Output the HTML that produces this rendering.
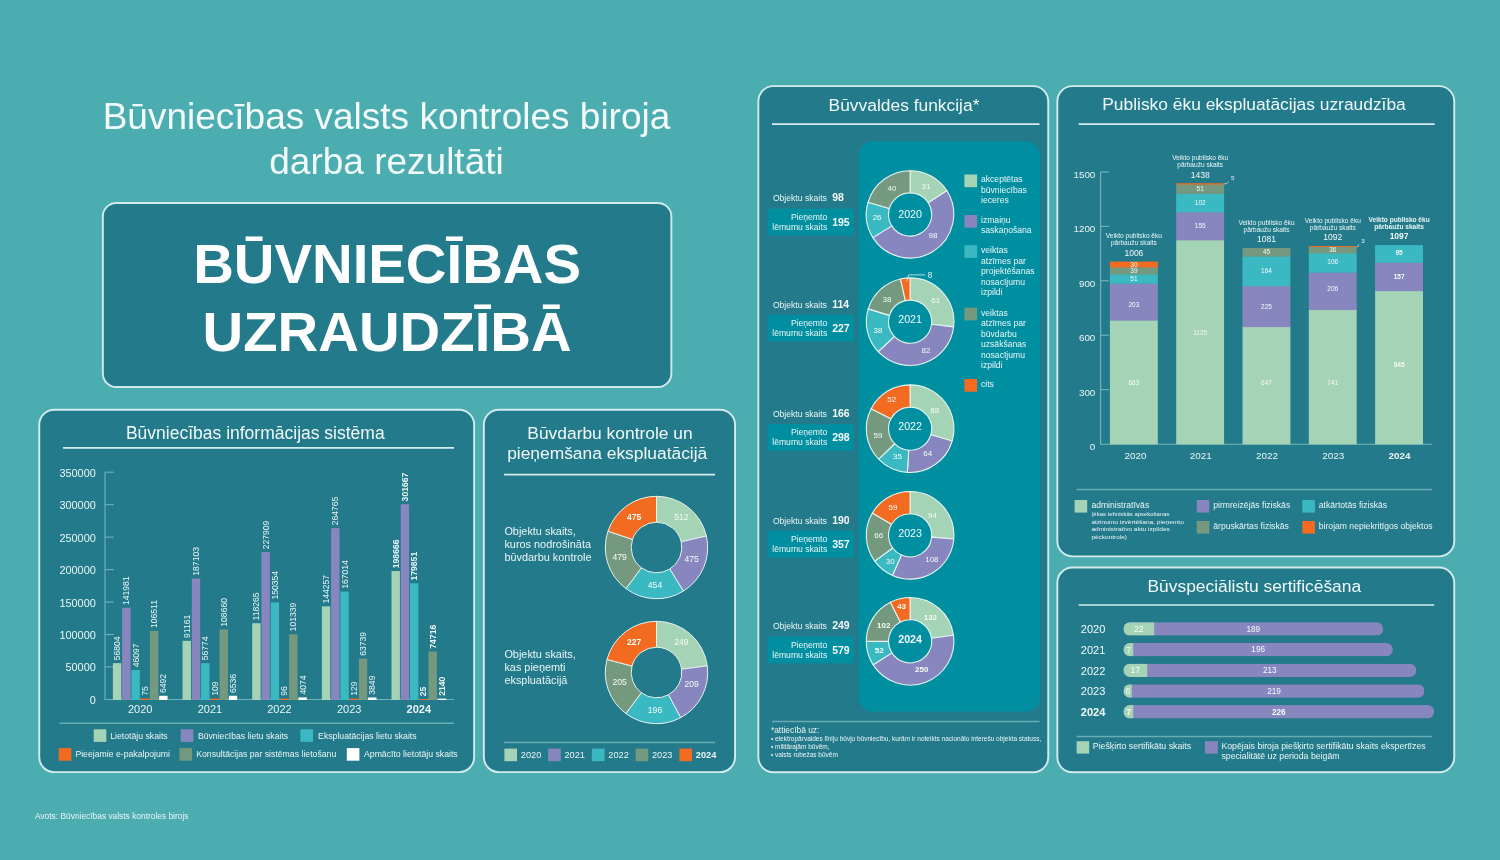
<!DOCTYPE html>
<html lang="lv"><head><meta charset="utf-8">
<title>Būvniecības valsts kontroles biroja darba rezultāti – Būvniecības uzraudzībā</title>
<style>
html,body{margin:0;padding:0;background:#4cadb1;}
body{width:1500px;height:860px;overflow:hidden;position:relative;font-family:"Liberation Sans",sans-serif;color:#eaf6f6;}
#stage{position:absolute;left:0;top:0;width:1500px;height:860px;background:#4cadb1;overflow:hidden;}
svg{position:absolute;left:0;top:0;overflow:visible;}
svg text{font-family:"Liberation Sans",sans-serif;}
h1,h2,p{margin:0;font-weight:400;}
#maintitle{position:absolute;left:0;width:773px;top:95px;text-align:center;font-size:37px;line-height:44.6px;color:#f2fafa;}
#hero{position:absolute;left:101.9px;top:202px;width:570.4px;height:186px;}
#hero p{position:absolute;left:-20px;right:-20px;top:27.6px;text-align:center;font-weight:700;font-size:56.3px;line-height:68px;color:#fff;}
.ptitle{position:absolute;text-align:center;font-size:17.4px;line-height:20.2px;color:#f0f9f9;}
#src{position:absolute;left:35px;top:810.5px;font-size:8.4px;line-height:10px;color:#e6f4f4;}
</style></head><body><div id="stage">

<header>
<h1 id="maintitle">Būvniecības valsts kontroles biroja<br>darba rezultāti</h1>
<svg width="1500" height="860" viewBox="0 0 1500 860"><rect x="102.85" y="202.95" width="568.50" height="184.10" rx="13.55" fill="#237a8a" stroke="#d0e9ea" stroke-width="1.9"/></svg>
<div id="hero"><p>BŪVNIECĪBAS<br>UZRAUDZĪBĀ</p></div>
</header>
<section id="bis">
<svg width="1500" height="860" viewBox="0 0 1500 860"><rect x="39.25" y="409.75" width="434.90" height="362.40" rx="15.05" fill="#237a8a" stroke="#d3ebec" stroke-width="1.9"/></svg>
<h2 class="ptitle" style="left:37.3px;width:436px;top:423.0px;font-size:17.5px">Būvniecības informācijas sistēma</h2>
<svg width="1500" height="860" viewBox="0 0 1500 860">
<line x1="63.0" y1="447.9" x2="454.0" y2="447.9" stroke="#d6eded" stroke-width="1.6"/>
<line x1="105.0" y1="472.2" x2="105.0" y2="699.9" stroke="#72b2ba" stroke-width="1.1"/>
<text x="95.8" y="703.9" font-size="10.9" text-anchor="end" fill="#eaf6f6">0</text>
<line x1="105.0" y1="666.9" x2="113.8" y2="666.9" stroke="#72b2ba" stroke-width="1.1"/>
<text x="95.8" y="671.4" font-size="10.9" text-anchor="end" fill="#eaf6f6">50000</text>
<line x1="105.0" y1="634.5" x2="113.8" y2="634.5" stroke="#72b2ba" stroke-width="1.1"/>
<text x="95.8" y="639.0" font-size="10.9" text-anchor="end" fill="#eaf6f6">100000</text>
<line x1="105.0" y1="602.0" x2="113.8" y2="602.0" stroke="#72b2ba" stroke-width="1.1"/>
<text x="95.8" y="606.5" font-size="10.9" text-anchor="end" fill="#eaf6f6">150000</text>
<line x1="105.0" y1="569.6" x2="113.8" y2="569.6" stroke="#72b2ba" stroke-width="1.1"/>
<text x="95.8" y="574.1" font-size="10.9" text-anchor="end" fill="#eaf6f6">200000</text>
<line x1="105.0" y1="537.1" x2="113.8" y2="537.1" stroke="#72b2ba" stroke-width="1.1"/>
<text x="95.8" y="541.6" font-size="10.9" text-anchor="end" fill="#eaf6f6">250000</text>
<line x1="105.0" y1="504.7" x2="113.8" y2="504.7" stroke="#72b2ba" stroke-width="1.1"/>
<text x="95.8" y="509.2" font-size="10.9" text-anchor="end" fill="#eaf6f6">300000</text>
<line x1="105.0" y1="472.2" x2="113.8" y2="472.2" stroke="#72b2ba" stroke-width="1.1"/>
<text x="95.8" y="476.7" font-size="10.9" text-anchor="end" fill="#eaf6f6">350000</text>
<line x1="104.5" y1="699.5" x2="454.0" y2="699.5" stroke="#72b2ba" stroke-width="1.1"/>
<rect x="112.90" y="663.13" width="8.40" height="36.87" fill="#a5d3b5"/>
<text transform="translate(120.1 660.3) rotate(-90)" font-size="8.6" fill="#eaf6f6">56804</text>
<rect x="122.15" y="607.83" width="8.40" height="92.17" fill="#8786be"/>
<text transform="translate(129.4 605.0) rotate(-90)" font-size="8.6" fill="#eaf6f6">141981</text>
<rect x="131.40" y="670.08" width="8.40" height="29.92" fill="#3bb9c2"/>
<text transform="translate(138.6 667.3) rotate(-90)" font-size="8.6" fill="#eaf6f6">46097</text>
<rect x="140.65" y="698.60" width="8.40" height="1.40" fill="#f26b21"/>
<text transform="translate(147.8 695.8) rotate(-90)" font-size="8.6" fill="#eaf6f6">75</text>
<rect x="149.90" y="630.86" width="8.40" height="69.14" fill="#74997f"/>
<text transform="translate(157.1 628.1) rotate(-90)" font-size="8.6" fill="#eaf6f6">106511</text>
<rect x="159.15" y="695.79" width="8.40" height="4.21" fill="#ffffff"/>
<text transform="translate(166.3 693.0) rotate(-90)" font-size="8.6" fill="#eaf6f6">6492</text>
<text x="140.2" y="712.7" font-size="11" text-anchor="middle" fill="#eaf6f6">2020</text>
<rect x="182.55" y="640.82" width="8.40" height="59.18" fill="#a5d3b5"/>
<text transform="translate(189.8 638.0) rotate(-90)" font-size="8.6" fill="#eaf6f6">91161</text>
<rect x="191.80" y="578.54" width="8.40" height="121.46" fill="#8786be"/>
<text transform="translate(199.0 575.7) rotate(-90)" font-size="8.6" fill="#eaf6f6">187103</text>
<rect x="201.05" y="663.15" width="8.40" height="36.85" fill="#3bb9c2"/>
<text transform="translate(208.2 660.3) rotate(-90)" font-size="8.6" fill="#eaf6f6">56774</text>
<rect x="210.30" y="698.60" width="8.40" height="1.40" fill="#f26b21"/>
<text transform="translate(217.5 695.8) rotate(-90)" font-size="8.6" fill="#eaf6f6">109</text>
<rect x="219.55" y="629.46" width="8.40" height="70.54" fill="#74997f"/>
<text transform="translate(226.8 626.7) rotate(-90)" font-size="8.6" fill="#eaf6f6">108660</text>
<rect x="228.80" y="695.76" width="8.40" height="4.24" fill="#ffffff"/>
<text transform="translate(236.0 693.0) rotate(-90)" font-size="8.6" fill="#eaf6f6">6536</text>
<text x="209.9" y="712.7" font-size="11" text-anchor="middle" fill="#eaf6f6">2021</text>
<rect x="252.20" y="623.23" width="8.40" height="76.77" fill="#a5d3b5"/>
<text transform="translate(259.4 620.4) rotate(-90)" font-size="8.6" fill="#eaf6f6">118265</text>
<rect x="261.45" y="552.05" width="8.40" height="147.95" fill="#8786be"/>
<text transform="translate(268.7 549.3) rotate(-90)" font-size="8.6" fill="#eaf6f6">227909</text>
<rect x="270.70" y="602.40" width="8.40" height="97.60" fill="#3bb9c2"/>
<text transform="translate(277.9 599.6) rotate(-90)" font-size="8.6" fill="#eaf6f6">150354</text>
<rect x="279.95" y="698.60" width="8.40" height="1.40" fill="#f26b21"/>
<text transform="translate(287.2 695.8) rotate(-90)" font-size="8.6" fill="#eaf6f6">96</text>
<rect x="289.20" y="634.22" width="8.40" height="65.78" fill="#74997f"/>
<text transform="translate(296.4 631.4) rotate(-90)" font-size="8.6" fill="#eaf6f6">101339</text>
<rect x="298.45" y="697.36" width="8.40" height="2.64" fill="#ffffff"/>
<text transform="translate(305.7 694.6) rotate(-90)" font-size="8.6" fill="#eaf6f6">4074</text>
<text x="279.5" y="712.7" font-size="11" text-anchor="middle" fill="#eaf6f6">2022</text>
<rect x="321.85" y="606.36" width="8.40" height="93.64" fill="#a5d3b5"/>
<text transform="translate(329.1 603.6) rotate(-90)" font-size="8.6" fill="#eaf6f6">144257</text>
<rect x="331.10" y="528.13" width="8.40" height="171.87" fill="#8786be"/>
<text transform="translate(338.3 525.3) rotate(-90)" font-size="8.6" fill="#eaf6f6">264765</text>
<rect x="340.35" y="591.58" width="8.40" height="108.42" fill="#3bb9c2"/>
<text transform="translate(347.6 588.8) rotate(-90)" font-size="8.6" fill="#eaf6f6">167014</text>
<rect x="349.60" y="698.60" width="8.40" height="1.40" fill="#f26b21"/>
<text transform="translate(356.8 695.8) rotate(-90)" font-size="8.6" fill="#eaf6f6">129</text>
<rect x="358.85" y="658.62" width="8.40" height="41.38" fill="#74997f"/>
<text transform="translate(366.1 655.8) rotate(-90)" font-size="8.6" fill="#eaf6f6">63739</text>
<rect x="368.10" y="697.50" width="8.40" height="2.50" fill="#ffffff"/>
<text transform="translate(375.3 694.7) rotate(-90)" font-size="8.6" fill="#eaf6f6">3849</text>
<text x="349.2" y="712.7" font-size="11" text-anchor="middle" fill="#eaf6f6">2023</text>
<rect x="391.50" y="571.04" width="8.40" height="128.96" fill="#a5d3b5"/>
<text transform="translate(398.7 568.2) rotate(-90)" font-size="8.6" fill="#eaf6f6" font-weight="700">198666</text>
<rect x="400.75" y="504.18" width="8.40" height="195.82" fill="#8786be"/>
<text transform="translate(407.9 501.4) rotate(-90)" font-size="8.6" fill="#eaf6f6" font-weight="700">301667</text>
<rect x="410.00" y="583.25" width="8.40" height="116.75" fill="#3bb9c2"/>
<text transform="translate(417.2 580.5) rotate(-90)" font-size="8.6" fill="#eaf6f6" font-weight="700">179851</text>
<rect x="419.25" y="699.10" width="8.40" height="0.90" fill="#f26b21"/>
<text transform="translate(426.4 696.3) rotate(-90)" font-size="8.6" fill="#eaf6f6" font-weight="700">25</text>
<rect x="428.50" y="651.50" width="8.40" height="48.50" fill="#74997f"/>
<text transform="translate(435.7 648.7) rotate(-90)" font-size="8.6" fill="#eaf6f6" font-weight="700">74716</text>
<rect x="437.75" y="698.60" width="8.40" height="1.40" fill="#ffffff"/>
<text transform="translate(444.9 695.8) rotate(-90)" font-size="8.6" fill="#eaf6f6" font-weight="700">2140</text>
<text x="418.8" y="712.7" font-size="11" text-anchor="middle" font-weight="700" fill="#eaf6f6">2024</text>
<line x1="59.4" y1="723.2" x2="454.0" y2="723.2" stroke="#6aadb5" stroke-width="1.5"/>
<rect x="93.70" y="729.30" width="12.60" height="12.60" fill="#a5d3b5"/>
<text x="110.2" y="738.6" font-size="8.7" text-anchor="start" fill="#eaf6f6">Lietotāju skaits</text>
<rect x="180.70" y="729.30" width="12.60" height="12.60" fill="#8786be"/>
<text x="197.9" y="738.6" font-size="8.7" text-anchor="start" fill="#eaf6f6">Būvniecības lietu skaits</text>
<rect x="300.40" y="729.30" width="12.60" height="12.60" fill="#3bb9c2"/>
<text x="318.1" y="738.6" font-size="8.7" text-anchor="start" fill="#eaf6f6">Ekspluatācijas lietu skaits</text>
<rect x="58.70" y="748.10" width="12.60" height="12.60" fill="#f26b21"/>
<text x="75.4" y="757.4" font-size="8.7" text-anchor="start" fill="#eaf6f6">Pieejamie e-pakalpojumi</text>
<rect x="179.40" y="748.10" width="12.60" height="12.60" fill="#74997f"/>
<text x="196.2" y="757.4" font-size="8.7" text-anchor="start" fill="#eaf6f6">Konsultācijas par sistēmas lietošanu</text>
<rect x="346.80" y="748.10" width="12.60" height="12.60" fill="#ffffff"/>
<text x="364.0" y="757.4" font-size="8.7" text-anchor="start" fill="#eaf6f6">Apmācīto lietotāju skaits</text>
</svg>
</section>
<section id="kontrole">
<svg width="1500" height="860" viewBox="0 0 1500 860"><rect x="483.85" y="409.75" width="251.20" height="362.40" rx="15.05" fill="#237a8a" stroke="#d3ebec" stroke-width="1.9"/></svg>
<h2 class="ptitle" style="left:484px;width:252px;top:422.8px;">Būvdarbu kontrole un<br><span style="position:relative;left:-2.8px">pieņemšana ekspluatācijā</span></h2>
<svg width="1500" height="860" viewBox="0 0 1500 860">
<line x1="504.1" y1="474.6" x2="715.0" y2="474.6" stroke="#d6eded" stroke-width="1.6"/>
<path d="M656.50 496.30A51.2 51.2 0 0 1 706.38 535.95L681.15 541.79A25.3 25.3 0 0 0 656.50 522.20Z" fill="#a5d3b5" stroke="#e6f3ef" stroke-width="1.0" stroke-linejoin="round"/>
<path d="M706.38 535.95A51.2 51.2 0 0 1 683.36 591.09L669.77 569.04A25.3 25.3 0 0 0 681.15 541.79Z" fill="#8786be" stroke="#e6f3ef" stroke-width="1.0" stroke-linejoin="round"/>
<path d="M683.36 591.09A51.2 51.2 0 0 1 625.97 588.60L641.42 567.81A25.3 25.3 0 0 0 669.77 569.04Z" fill="#3bb9c2" stroke="#e6f3ef" stroke-width="1.0" stroke-linejoin="round"/>
<path d="M625.97 588.60A51.2 51.2 0 0 1 607.97 531.17L632.52 539.43A25.3 25.3 0 0 0 641.42 567.81Z" fill="#74997f" stroke="#e6f3ef" stroke-width="1.0" stroke-linejoin="round"/>
<path d="M607.97 531.17A51.2 51.2 0 0 1 656.50 496.30L656.50 522.20A25.3 25.3 0 0 0 632.52 539.43Z" fill="#f26b21" stroke="#e6f3ef" stroke-width="1.0" stroke-linejoin="round"/>
<text x="681.4" y="520.4" font-size="8.6" text-anchor="middle" fill="#f4fbf8">512</text>
<text x="691.6" y="562.4" font-size="8.6" text-anchor="middle" fill="#f4fbf8">475</text>
<text x="655.0" y="588.3" font-size="8.6" text-anchor="middle" fill="#f4fbf8">454</text>
<text x="619.7" y="559.6" font-size="8.6" text-anchor="middle" fill="#f4fbf8">479</text>
<text x="634.1" y="520.2" font-size="8.6" text-anchor="middle" font-weight="700" fill="#f4fbf8">475</text>
<path d="M656.50 621.30A51.2 51.2 0 0 1 707.27 665.85L681.59 669.22A25.3 25.3 0 0 0 656.50 647.20Z" fill="#a5d3b5" stroke="#e6f3ef" stroke-width="1.0" stroke-linejoin="round"/>
<path d="M707.27 665.85A51.2 51.2 0 0 1 680.68 717.63L668.45 694.80A25.3 25.3 0 0 0 681.59 669.22Z" fill="#8786be" stroke="#e6f3ef" stroke-width="1.0" stroke-linejoin="round"/>
<path d="M680.68 717.63A51.2 51.2 0 0 1 625.83 713.50L641.35 692.76A25.3 25.3 0 0 0 668.45 694.80Z" fill="#3bb9c2" stroke="#e6f3ef" stroke-width="1.0" stroke-linejoin="round"/>
<path d="M625.83 713.50A51.2 51.2 0 0 1 606.99 659.46L632.03 666.06A25.3 25.3 0 0 0 641.35 692.76Z" fill="#74997f" stroke="#e6f3ef" stroke-width="1.0" stroke-linejoin="round"/>
<path d="M606.99 659.46A51.2 51.2 0 0 1 656.50 621.30L656.50 647.20A25.3 25.3 0 0 0 632.03 666.06Z" fill="#f26b21" stroke="#e6f3ef" stroke-width="1.0" stroke-linejoin="round"/>
<text x="681.4" y="645.4" font-size="8.6" text-anchor="middle" fill="#f4fbf8">249</text>
<text x="691.6" y="687.4" font-size="8.6" text-anchor="middle" fill="#f4fbf8">209</text>
<text x="655.0" y="713.3" font-size="8.6" text-anchor="middle" fill="#f4fbf8">196</text>
<text x="619.7" y="684.6" font-size="8.6" text-anchor="middle" fill="#f4fbf8">205</text>
<text x="634.1" y="645.2" font-size="8.6" text-anchor="middle" font-weight="700" fill="#f4fbf8">227</text>
<text x="504.4" y="534.8" font-size="10.9" text-anchor="start" fill="#eaf6f6">Objektu skaits,</text>
<text x="504.4" y="547.8" font-size="10.9" text-anchor="start" fill="#eaf6f6">kuros nodrošināta</text>
<text x="504.4" y="560.8" font-size="10.9" text-anchor="start" fill="#eaf6f6">būvdarbu kontrole</text>
<text x="504.4" y="658.4" font-size="10.9" text-anchor="start" fill="#eaf6f6">Objektu skaits,</text>
<text x="504.4" y="671.4" font-size="10.9" text-anchor="start" fill="#eaf6f6">kas pieņemti</text>
<text x="504.4" y="684.4" font-size="10.9" text-anchor="start" fill="#eaf6f6">ekspluatācijā</text>
<line x1="504.0" y1="742.5" x2="715.0" y2="742.5" stroke="#6aadb5" stroke-width="1.5"/>
<rect x="504.40" y="748.60" width="12.60" height="12.60" fill="#a5d3b5"/>
<text x="520.8" y="758.2" font-size="9.2" text-anchor="start" fill="#eaf6f6">2020</text>
<rect x="548.15" y="748.60" width="12.60" height="12.60" fill="#8786be"/>
<text x="564.5" y="758.2" font-size="9.2" text-anchor="start" fill="#eaf6f6">2021</text>
<rect x="591.90" y="748.60" width="12.60" height="12.60" fill="#3bb9c2"/>
<text x="608.3" y="758.2" font-size="9.2" text-anchor="start" fill="#eaf6f6">2022</text>
<rect x="635.65" y="748.60" width="12.60" height="12.60" fill="#74997f"/>
<text x="652.0" y="758.2" font-size="9.2" text-anchor="start" fill="#eaf6f6">2023</text>
<rect x="679.40" y="748.60" width="12.60" height="12.60" fill="#f26b21"/>
<text x="695.8" y="758.2" font-size="9.2" text-anchor="start" font-weight="700" fill="#eaf6f6">2024</text>
</svg>
</section>
<section id="buvvalde">
<svg width="1500" height="860" viewBox="0 0 1500 860"><rect x="758.35" y="86.15" width="289.90" height="686.10" rx="15.05" fill="#237a8a" stroke="#d3ebec" stroke-width="1.9"/></svg>
<h2 class="ptitle" style="left:758.5px;width:291px;top:95.0px;">Būvvaldes funkcija*</h2>
<svg width="1500" height="860" viewBox="0 0 1500 860">
<line x1="772.0" y1="124.1" x2="1039.5" y2="124.1" stroke="#d6eded" stroke-width="1.6"/>
<rect x="858.7" y="141.6" width="181.3" height="570" rx="14" fill="#008fa1"/>
<path d="M910.10 170.70A43.8 43.8 0 0 1 946.93 190.79L928.26 202.81A21.6 21.6 0 0 0 910.10 192.90Z" fill="#a5d3b5" stroke="#e6f3ef" stroke-width="1.1" stroke-linejoin="round"/>
<path d="M946.93 190.79A43.8 43.8 0 1 1 872.89 237.61L891.75 225.90A21.6 21.6 0 1 0 928.26 202.81Z" fill="#8786be" stroke="#e6f3ef" stroke-width="1.1" stroke-linejoin="round"/>
<path d="M872.89 237.61A43.8 43.8 0 0 1 868.03 202.31L889.35 208.49A21.6 21.6 0 0 0 891.75 225.90Z" fill="#3bb9c2" stroke="#e6f3ef" stroke-width="1.1" stroke-linejoin="round"/>
<path d="M868.03 202.31A43.8 43.8 0 0 1 910.10 170.70L910.10 192.90A21.6 21.6 0 0 0 889.35 208.49Z" fill="#74997f" stroke="#e6f3ef" stroke-width="1.1" stroke-linejoin="round"/>
<text x="925.9" y="188.9" font-size="8.0" text-anchor="middle" fill="#f4fbf8">31</text>
<text x="932.9" y="237.8" font-size="8.0" text-anchor="middle" fill="#f4fbf8">98</text>
<text x="877.1" y="220.3" font-size="8.0" text-anchor="middle" fill="#f4fbf8">26</text>
<text x="891.9" y="190.7" font-size="8.0" text-anchor="middle" fill="#f4fbf8">40</text>
<text x="910.1" y="217.7" font-size="10.7" text-anchor="middle" fill="#f4fbfb">2020</text>
<text x="826.9" y="201.3" font-size="8.6" text-anchor="end" fill="#eaf6f6">Objektu skaits</text>
<text x="832.2" y="201.3" font-size="10.5" text-anchor="start" font-weight="700" fill="#f4fbfb">98</text>
<rect x="767.90" y="208.65" width="86.00" height="26.70" fill="#008fa1"/>
<text x="827.2" y="219.6" font-size="8.6" text-anchor="end" fill="#eaf6f6">Pieņemto</text>
<text x="827.2" y="229.6" font-size="8.6" text-anchor="end" fill="#eaf6f6">lēmumu skaits</text>
<text x="832.2" y="225.6" font-size="10.5" text-anchor="start" font-weight="700" fill="#f4fbfb">195</text>
<path d="M910.10 277.90A43.8 43.8 0 0 1 953.60 326.84L931.55 324.24A21.6 21.6 0 0 0 910.10 300.10Z" fill="#a5d3b5" stroke="#e6f3ef" stroke-width="1.1" stroke-linejoin="round"/>
<path d="M953.60 326.84A43.8 43.8 0 0 1 878.18 351.69L894.36 336.49A21.6 21.6 0 0 0 931.55 324.24Z" fill="#8786be" stroke="#e6f3ef" stroke-width="1.1" stroke-linejoin="round"/>
<path d="M878.18 351.69A43.8 43.8 0 0 1 868.22 308.86L889.45 315.37A21.6 21.6 0 0 0 894.36 336.49Z" fill="#3bb9c2" stroke="#e6f3ef" stroke-width="1.1" stroke-linejoin="round"/>
<path d="M868.22 308.86A43.8 43.8 0 0 1 900.48 278.97L905.36 300.63A21.6 21.6 0 0 0 889.45 315.37Z" fill="#74997f" stroke="#e6f3ef" stroke-width="1.1" stroke-linejoin="round"/>
<path d="M900.48 278.97A43.8 43.8 0 0 1 910.10 277.90L910.10 300.10A21.6 21.6 0 0 0 905.36 300.63Z" fill="#f26b21" stroke="#e6f3ef" stroke-width="1.1" stroke-linejoin="round"/>
<text x="935.7" y="302.8" font-size="8.0" text-anchor="middle" fill="#f4fbf8">61</text>
<text x="925.9" y="352.7" font-size="8.0" text-anchor="middle" fill="#f4fbf8">82</text>
<text x="877.9" y="332.6" font-size="8.0" text-anchor="middle" fill="#f4fbf8">38</text>
<text x="886.9" y="302.3" font-size="8.0" text-anchor="middle" fill="#f4fbf8">38</text>
<text x="910.1" y="323.0" font-size="10.7" text-anchor="middle" fill="#f4fbfb">2021</text>
<text x="826.9" y="307.5" font-size="8.6" text-anchor="end" fill="#eaf6f6">Objektu skaits</text>
<text x="832.2" y="307.5" font-size="10.5" text-anchor="start" font-weight="700" fill="#f4fbfb">114</text>
<rect x="767.90" y="314.80" width="86.00" height="26.70" fill="#008fa1"/>
<text x="827.2" y="325.7" font-size="8.6" text-anchor="end" fill="#eaf6f6">Pieņemto</text>
<text x="827.2" y="335.7" font-size="8.6" text-anchor="end" fill="#eaf6f6">lēmumu skaits</text>
<text x="832.2" y="331.7" font-size="10.5" text-anchor="start" font-weight="700" fill="#f4fbfb">227</text>
<path d="M910.10 384.90A43.8 43.8 0 0 1 952.14 441.00L930.83 434.77A21.6 21.6 0 0 0 910.10 407.10Z" fill="#a5d3b5" stroke="#e6f3ef" stroke-width="1.1" stroke-linejoin="round"/>
<path d="M952.14 441.00A43.8 43.8 0 0 1 907.33 472.41L908.73 450.26A21.6 21.6 0 0 0 930.83 434.77Z" fill="#8786be" stroke="#e6f3ef" stroke-width="1.1" stroke-linejoin="round"/>
<path d="M907.33 472.41A43.8 43.8 0 0 1 878.64 459.18L894.59 443.73A21.6 21.6 0 0 0 908.73 450.26Z" fill="#3bb9c2" stroke="#e6f3ef" stroke-width="1.1" stroke-linejoin="round"/>
<path d="M878.64 459.18A43.8 43.8 0 0 1 871.14 408.69L890.89 418.83A21.6 21.6 0 0 0 894.59 443.73Z" fill="#74997f" stroke="#e6f3ef" stroke-width="1.1" stroke-linejoin="round"/>
<path d="M871.14 408.69A43.8 43.8 0 0 1 910.10 384.90L910.10 407.10A21.6 21.6 0 0 0 890.89 418.83Z" fill="#f26b21" stroke="#e6f3ef" stroke-width="1.1" stroke-linejoin="round"/>
<text x="934.8" y="412.6" font-size="8.0" text-anchor="middle" fill="#f4fbf8">88</text>
<text x="927.8" y="456.4" font-size="8.0" text-anchor="middle" fill="#f4fbf8">64</text>
<text x="897.4" y="458.9" font-size="8.0" text-anchor="middle" fill="#f4fbf8">35</text>
<text x="877.9" y="438.0" font-size="8.0" text-anchor="middle" fill="#f4fbf8">59</text>
<text x="891.7" y="402.0" font-size="8.0" text-anchor="middle" fill="#f4fbf8">52</text>
<text x="910.1" y="429.9" font-size="10.7" text-anchor="middle" fill="#f4fbfb">2022</text>
<text x="826.9" y="416.8" font-size="8.6" text-anchor="end" fill="#eaf6f6">Objektu skaits</text>
<text x="832.2" y="416.8" font-size="10.5" text-anchor="start" font-weight="700" fill="#f4fbfb">166</text>
<rect x="767.90" y="424.05" width="86.00" height="26.70" fill="#008fa1"/>
<text x="827.2" y="434.9" font-size="8.6" text-anchor="end" fill="#eaf6f6">Pieņemto</text>
<text x="827.2" y="444.9" font-size="8.6" text-anchor="end" fill="#eaf6f6">lēmumu skaits</text>
<text x="832.2" y="440.9" font-size="10.5" text-anchor="start" font-weight="700" fill="#f4fbfb">298</text>
<path d="M910.10 491.50A43.8 43.8 0 0 1 953.75 538.96L931.62 537.10A21.6 21.6 0 0 0 910.10 513.70Z" fill="#a5d3b5" stroke="#e6f3ef" stroke-width="1.1" stroke-linejoin="round"/>
<path d="M953.75 538.96A43.8 43.8 0 0 1 892.50 575.41L901.42 555.08A21.6 21.6 0 0 0 931.62 537.10Z" fill="#8786be" stroke="#e6f3ef" stroke-width="1.1" stroke-linejoin="round"/>
<path d="M892.50 575.41A43.8 43.8 0 0 1 874.69 561.08L892.64 548.01A21.6 21.6 0 0 0 901.42 555.08Z" fill="#3bb9c2" stroke="#e6f3ef" stroke-width="1.1" stroke-linejoin="round"/>
<path d="M874.69 561.08A43.8 43.8 0 0 1 872.36 513.07L891.49 524.34A21.6 21.6 0 0 0 892.64 548.01Z" fill="#74997f" stroke="#e6f3ef" stroke-width="1.1" stroke-linejoin="round"/>
<path d="M872.36 513.07A43.8 43.8 0 0 1 910.10 491.50L910.10 513.70A21.6 21.6 0 0 0 891.49 524.34Z" fill="#f26b21" stroke="#e6f3ef" stroke-width="1.1" stroke-linejoin="round"/>
<text x="932.5" y="518.0" font-size="8.0" text-anchor="middle" fill="#f4fbf8">94</text>
<text x="931.9" y="561.7" font-size="8.0" text-anchor="middle" fill="#f4fbf8">108</text>
<text x="890.3" y="564.4" font-size="8.0" text-anchor="middle" fill="#f4fbf8">30</text>
<text x="878.8" y="538.4" font-size="8.0" text-anchor="middle" fill="#f4fbf8">66</text>
<text x="893.0" y="509.9" font-size="8.0" text-anchor="middle" fill="#f4fbf8">59</text>
<text x="910.1" y="536.5" font-size="10.7" text-anchor="middle" fill="#f4fbfb">2023</text>
<text x="826.9" y="523.6" font-size="8.6" text-anchor="end" fill="#eaf6f6">Objektu skaits</text>
<text x="832.2" y="523.6" font-size="10.5" text-anchor="start" font-weight="700" fill="#f4fbfb">190</text>
<rect x="767.90" y="530.90" width="86.00" height="26.70" fill="#008fa1"/>
<text x="827.2" y="541.8" font-size="8.6" text-anchor="end" fill="#eaf6f6">Pieņemto</text>
<text x="827.2" y="551.8" font-size="8.6" text-anchor="end" fill="#eaf6f6">lēmumu skaits</text>
<text x="832.2" y="547.8" font-size="10.5" text-anchor="start" font-weight="700" fill="#f4fbfb">357</text>
<path d="M910.10 597.50A43.8 43.8 0 0 1 953.48 635.26L931.49 638.32A21.6 21.6 0 0 0 910.10 619.70Z" fill="#a5d3b5" stroke="#e6f3ef" stroke-width="1.1" stroke-linejoin="round"/>
<path d="M953.48 635.26A43.8 43.8 0 0 1 873.15 664.83L891.88 652.90A21.6 21.6 0 0 0 931.49 638.32Z" fill="#8786be" stroke="#e6f3ef" stroke-width="1.1" stroke-linejoin="round"/>
<path d="M873.15 664.83A43.8 43.8 0 0 1 866.30 641.42L888.50 641.36A21.6 21.6 0 0 0 891.88 652.90Z" fill="#3bb9c2" stroke="#e6f3ef" stroke-width="1.1" stroke-linejoin="round"/>
<path d="M866.30 641.42A43.8 43.8 0 0 1 890.40 602.18L900.38 622.01A21.6 21.6 0 0 0 888.50 641.36Z" fill="#74997f" stroke="#e6f3ef" stroke-width="1.1" stroke-linejoin="round"/>
<path d="M890.40 602.18A43.8 43.8 0 0 1 910.10 597.50L910.10 619.70A21.6 21.6 0 0 0 900.38 622.01Z" fill="#f26b21" stroke="#e6f3ef" stroke-width="1.1" stroke-linejoin="round"/>
<text x="930.4" y="620.1" font-size="8.0" text-anchor="middle" font-weight="700" fill="#f4fbf8">132</text>
<text x="921.8" y="672.2" font-size="8.0" text-anchor="middle" font-weight="700" fill="#f4fbf8">250</text>
<text x="879.2" y="653.1" font-size="8.0" text-anchor="middle" font-weight="700" fill="#f4fbf8">52</text>
<text x="883.7" y="628.2" font-size="8.0" text-anchor="middle" font-weight="700" fill="#f4fbf8">102</text>
<text x="901.6" y="609.3" font-size="8.0" text-anchor="middle" font-weight="700" fill="#f4fbf8">43</text>
<text x="910.1" y="642.9" font-size="10.7" text-anchor="middle" font-weight="700" fill="#f4fbfb">2024</text>
<text x="826.9" y="629.3" font-size="8.6" text-anchor="end" fill="#eaf6f6">Objektu skaits</text>
<text x="832.2" y="629.3" font-size="10.5" text-anchor="start" font-weight="700" fill="#f4fbfb">249</text>
<rect x="767.90" y="636.60" width="86.00" height="26.70" fill="#008fa1"/>
<text x="827.2" y="647.5" font-size="8.6" text-anchor="end" fill="#eaf6f6">Pieņemto</text>
<text x="827.2" y="657.5" font-size="8.6" text-anchor="end" fill="#eaf6f6">lēmumu skaits</text>
<text x="832.2" y="653.5" font-size="10.5" text-anchor="start" font-weight="700" fill="#f4fbfb">579</text>
<polyline points="906.7,281.3 908.6,274.9 925.2,274.9" fill="none" stroke="#d8eeee" stroke-width="0.8"/>
<text x="927.8" y="277.7" font-size="8.2" text-anchor="start" fill="#eaf6f6">8</text>
<rect x="964.40" y="174.50" width="12.70" height="12.70" fill="#a5d3b5"/>
<text x="981.0" y="182.4" font-size="8.6" text-anchor="start" fill="#eaf6f6">akceptētas</text>
<text x="981.0" y="192.9" font-size="8.6" text-anchor="start" fill="#eaf6f6">būvniecības</text>
<text x="981.0" y="203.4" font-size="8.6" text-anchor="start" fill="#eaf6f6">ieceres</text>
<rect x="964.40" y="215.00" width="12.70" height="12.70" fill="#8786be"/>
<text x="981.0" y="222.9" font-size="8.6" text-anchor="start" fill="#eaf6f6">izmaiņu</text>
<text x="981.0" y="233.4" font-size="8.6" text-anchor="start" fill="#eaf6f6">saskaņošana</text>
<rect x="964.40" y="245.20" width="12.70" height="12.70" fill="#3bb9c2"/>
<text x="981.0" y="253.1" font-size="8.6" text-anchor="start" fill="#eaf6f6">veiktas</text>
<text x="981.0" y="263.6" font-size="8.6" text-anchor="start" fill="#eaf6f6">atzīmes par</text>
<text x="981.0" y="274.1" font-size="8.6" text-anchor="start" fill="#eaf6f6">projektēšanas</text>
<text x="981.0" y="284.6" font-size="8.6" text-anchor="start" fill="#eaf6f6">nosacījumu</text>
<text x="981.0" y="295.1" font-size="8.6" text-anchor="start" fill="#eaf6f6">izpildi</text>
<rect x="964.40" y="307.70" width="12.70" height="12.70" fill="#74997f"/>
<text x="981.0" y="315.6" font-size="8.6" text-anchor="start" fill="#eaf6f6">veiktas</text>
<text x="981.0" y="326.1" font-size="8.6" text-anchor="start" fill="#eaf6f6">atzīmes par</text>
<text x="981.0" y="336.6" font-size="8.6" text-anchor="start" fill="#eaf6f6">būvdarbu</text>
<text x="981.0" y="347.1" font-size="8.6" text-anchor="start" fill="#eaf6f6">uzsākšanas</text>
<text x="981.0" y="357.6" font-size="8.6" text-anchor="start" fill="#eaf6f6">nosacījumu</text>
<text x="981.0" y="368.1" font-size="8.6" text-anchor="start" fill="#eaf6f6">izpildi</text>
<rect x="964.40" y="379.00" width="12.70" height="12.70" fill="#f26b21"/>
<text x="981.0" y="386.9" font-size="8.6" text-anchor="start" fill="#eaf6f6">cits</text>
<line x1="772.0" y1="721.4" x2="1039.5" y2="721.4" stroke="#6aadb5" stroke-width="1.5"/>
<text x="770.9" y="733.4" font-size="8.4" text-anchor="start" fill="#eaf6f6">*attiecībā uz:</text>
<text x="770.9" y="741.2" font-size="6.5" text-anchor="start" fill="#eaf6f6">• elektropārvaldes līniju būvju būvniecību, kurām ir noteikts nacionālo interešu objekta statuss,</text>
<text x="770.9" y="749.0" font-size="6.5" text-anchor="start" fill="#eaf6f6">• militārajām būvēm,</text>
<text x="770.9" y="756.7" font-size="6.5" text-anchor="start" fill="#eaf6f6">• valsts robežas būvēm</text>
</svg>
</section>
<section id="ekspluatacija">
<svg width="1500" height="860" viewBox="0 0 1500 860"><rect x="1057.35" y="86.15" width="396.90" height="470.20" rx="15.05" fill="#237a8a" stroke="#d3ebec" stroke-width="1.9"/></svg>
<h2 class="ptitle" style="left:1055px;width:398px;top:94.4px;">Publisko ēku ekspluatācijas uzraudzība</h2>
<svg width="1500" height="860" viewBox="0 0 1500 860">
<line x1="1078.7" y1="124.1" x2="1434.6" y2="124.1" stroke="#d6eded" stroke-width="1.6"/>
<line x1="1100.6" y1="172.0" x2="1100.6" y2="444.5" stroke="#7ab4bd" stroke-width="1.1"/>
<text x="1095.3" y="450.0" font-size="9.8" text-anchor="end" fill="#eaf6f6">0</text>
<line x1="1100.6" y1="389.6" x2="1108.9" y2="389.6" stroke="#7ab4bd" stroke-width="1.1"/>
<text x="1095.3" y="395.6" font-size="9.8" text-anchor="end" fill="#eaf6f6">300</text>
<line x1="1100.6" y1="335.2" x2="1108.9" y2="335.2" stroke="#7ab4bd" stroke-width="1.1"/>
<text x="1095.3" y="341.2" font-size="9.8" text-anchor="end" fill="#eaf6f6">600</text>
<line x1="1100.6" y1="280.8" x2="1108.9" y2="280.8" stroke="#7ab4bd" stroke-width="1.1"/>
<text x="1095.3" y="286.8" font-size="9.8" text-anchor="end" fill="#eaf6f6">900</text>
<line x1="1100.6" y1="226.4" x2="1108.9" y2="226.4" stroke="#7ab4bd" stroke-width="1.1"/>
<text x="1095.3" y="232.4" font-size="9.8" text-anchor="end" fill="#eaf6f6">1200</text>
<line x1="1100.6" y1="172.0" x2="1108.9" y2="172.0" stroke="#7ab4bd" stroke-width="1.1"/>
<text x="1095.3" y="178.0" font-size="9.8" text-anchor="end" fill="#eaf6f6">1500</text>
<line x1="1100.1" y1="444.2" x2="1432.2" y2="444.2" stroke="#7ab4bd" stroke-width="1.1"/>
<rect x="1109.90" y="320.15" width="47.90" height="124.25" fill="#a5d3b5"/>
<text x="1133.9" y="385.2" font-size="6.5" text-anchor="middle" fill="#f4fbf8">683</text>
<rect x="1109.90" y="283.34" width="47.90" height="37.21" fill="#8786be"/>
<text x="1133.9" y="306.6" font-size="6.5" text-anchor="middle" fill="#f4fbf8">203</text>
<rect x="1109.90" y="274.09" width="47.90" height="9.65" fill="#3bb9c2"/>
<text x="1133.9" y="281.0" font-size="6.5" text-anchor="middle" fill="#f4fbf8">51</text>
<rect x="1109.90" y="267.02" width="47.90" height="7.47" fill="#74997f"/>
<text x="1133.9" y="272.8" font-size="6.5" text-anchor="middle" fill="#f4fbf8">39</text>
<rect x="1109.90" y="261.58" width="47.90" height="5.84" fill="#f26b21"/>
<text x="1133.9" y="266.5" font-size="6.5" text-anchor="middle" fill="#f4fbf8">30</text>
<text x="1133.9" y="255.9" font-size="8.5" text-anchor="middle" fill="#f4fbfb">1006</text>
<text x="1133.9" y="245.3" font-size="6.55" text-anchor="middle" fill="#eaf6f6">pārbaužu skaits</text>
<text x="1133.9" y="238.1" font-size="6.55" text-anchor="middle" fill="#eaf6f6">Veikto publisko ēku</text>
<text x="1135.6" y="459.0" font-size="9.9" text-anchor="middle" fill="#eaf6f6">2020</text>
<rect x="1176.20" y="240.00" width="47.90" height="204.40" fill="#a5d3b5"/>
<text x="1200.2" y="335.4" font-size="6.5" text-anchor="middle" fill="#f4fbf8">1125</text>
<rect x="1176.20" y="211.89" width="47.90" height="28.51" fill="#8786be"/>
<text x="1200.2" y="228.2" font-size="6.5" text-anchor="middle" fill="#f4fbf8">155</text>
<rect x="1176.20" y="193.40" width="47.90" height="18.90" fill="#3bb9c2"/>
<text x="1200.2" y="204.9" font-size="6.5" text-anchor="middle" fill="#f4fbf8">102</text>
<rect x="1176.20" y="184.15" width="47.90" height="9.65" fill="#74997f"/>
<text x="1200.2" y="191.0" font-size="6.5" text-anchor="middle" fill="#f4fbf8">51</text>
<rect x="1176.20" y="183.24" width="47.90" height="1.31" fill="#f26b21"/>
<text x="1200.2" y="177.5" font-size="8.5" text-anchor="middle" fill="#f4fbfb">1438</text>
<text x="1200.2" y="166.9" font-size="6.55" text-anchor="middle" fill="#eaf6f6">pārbaužu skaits</text>
<text x="1200.2" y="159.7" font-size="6.55" text-anchor="middle" fill="#eaf6f6">Veikto publisko ēku</text>
<text x="1200.7" y="459.0" font-size="9.9" text-anchor="middle" fill="#eaf6f6">2021</text>
<rect x="1242.50" y="326.68" width="47.90" height="117.72" fill="#a5d3b5"/>
<text x="1266.5" y="385.1" font-size="6.5" text-anchor="middle" fill="#f4fbf8">647</text>
<rect x="1242.50" y="285.88" width="47.90" height="41.20" fill="#8786be"/>
<text x="1266.5" y="308.5" font-size="6.5" text-anchor="middle" fill="#f4fbf8">225</text>
<rect x="1242.50" y="256.14" width="47.90" height="30.14" fill="#3bb9c2"/>
<text x="1266.5" y="273.3" font-size="6.5" text-anchor="middle" fill="#f4fbf8">164</text>
<rect x="1242.50" y="247.98" width="47.90" height="8.56" fill="#74997f"/>
<text x="1266.5" y="254.3" font-size="6.5" text-anchor="middle" fill="#f4fbf8">45</text>
<text x="1266.5" y="242.3" font-size="8.5" text-anchor="middle" fill="#f4fbfb">1081</text>
<text x="1266.5" y="231.7" font-size="6.55" text-anchor="middle" fill="#eaf6f6">pārbaužu skaits</text>
<text x="1266.5" y="224.5" font-size="6.55" text-anchor="middle" fill="#eaf6f6">Veikto publisko ēku</text>
<text x="1267.0" y="459.0" font-size="9.9" text-anchor="middle" fill="#eaf6f6">2022</text>
<rect x="1308.80" y="309.63" width="47.90" height="134.77" fill="#a5d3b5"/>
<text x="1332.8" y="385.1" font-size="6.5" text-anchor="middle" fill="#f4fbf8">741</text>
<rect x="1308.80" y="272.28" width="47.90" height="37.75" fill="#8786be"/>
<text x="1332.8" y="291.1" font-size="6.5" text-anchor="middle" fill="#f4fbf8">206</text>
<rect x="1308.80" y="253.06" width="47.90" height="19.62" fill="#3bb9c2"/>
<text x="1332.8" y="263.9" font-size="6.5" text-anchor="middle" fill="#f4fbf8">106</text>
<rect x="1308.80" y="246.53" width="47.90" height="6.93" fill="#74997f"/>
<text x="1332.8" y="252.0" font-size="6.5" text-anchor="middle" fill="#f4fbf8">36</text>
<rect x="1308.80" y="245.98" width="47.90" height="0.94" fill="#f26b21"/>
<text x="1332.8" y="240.3" font-size="8.5" text-anchor="middle" fill="#f4fbfb">1092</text>
<text x="1332.8" y="229.7" font-size="6.55" text-anchor="middle" fill="#eaf6f6">pārbaužu skaits</text>
<text x="1332.8" y="222.5" font-size="6.55" text-anchor="middle" fill="#eaf6f6">Veikto publisko ēku</text>
<text x="1333.3" y="459.0" font-size="9.9" text-anchor="middle" fill="#eaf6f6">2023</text>
<rect x="1375.10" y="290.77" width="47.90" height="153.63" fill="#a5d3b5"/>
<text x="1399.1" y="367.4" font-size="6.5" text-anchor="middle" font-weight="700" fill="#f4fbf8">845</text>
<rect x="1375.10" y="262.30" width="47.90" height="28.87" fill="#8786be"/>
<text x="1399.1" y="278.8" font-size="6.5" text-anchor="middle" font-weight="700" fill="#f4fbf8">157</text>
<rect x="1375.10" y="245.08" width="47.90" height="17.63" fill="#3bb9c2"/>
<text x="1399.1" y="255.2" font-size="6.5" text-anchor="middle" font-weight="700" fill="#f4fbf8">95</text>
<text x="1399.1" y="239.4" font-size="8.5" text-anchor="middle" font-weight="700" fill="#f4fbfb">1097</text>
<text x="1399.1" y="228.8" font-size="6.55" text-anchor="middle" font-weight="700" fill="#eaf6f6">pārbaužu skaits</text>
<text x="1399.1" y="221.6" font-size="6.55" text-anchor="middle" font-weight="700" fill="#eaf6f6">Veikto publisko ēku</text>
<text x="1399.6" y="459.0" font-size="9.9" text-anchor="middle" font-weight="700" fill="#eaf6f6">2024</text>
<path d="M1224.1 184.0q3.5 0 4.5 -2.5" fill="none" stroke="#d8eeee" stroke-width="0.7"/>
<text x="1231.1" y="180.2" font-size="6.2" text-anchor="start" fill="#eaf6f6">5</text>
<path d="M1356.7 246.8q2.1 0 2.1 -2.5" fill="none" stroke="#d8eeee" stroke-width="0.7"/>
<text x="1361.3" y="243.0" font-size="6.2" text-anchor="start" fill="#eaf6f6">3</text>
<line x1="1076.6" y1="489.6" x2="1432.2" y2="489.6" stroke="#6aadb5" stroke-width="1.5"/>
<rect x="1074.60" y="500.00" width="12.60" height="12.60" fill="#a5d3b5"/>
<text x="1091.4" y="507.8" font-size="8.6" text-anchor="start" fill="#eaf6f6">administratīvās</text>
<text x="1091.4" y="515.7" font-size="6.2" text-anchor="start" fill="#eaf6f6" textLength="78.1" lengthAdjust="spacingAndGlyphs">(ēkas tehniskās apsekošanas</text>
<text x="1091.4" y="523.6" font-size="6.2" text-anchor="start" fill="#eaf6f6" textLength="92.4" lengthAdjust="spacingAndGlyphs">atzinumu izvērtēšana, pieņemto</text>
<text x="1091.4" y="531.4" font-size="6.2" text-anchor="start" fill="#eaf6f6" textLength="78.4" lengthAdjust="spacingAndGlyphs">administratīvo aktu izpildes</text>
<text x="1091.4" y="539.2" font-size="6.2" text-anchor="start" fill="#eaf6f6" textLength="35.6" lengthAdjust="spacingAndGlyphs">pēckontrole)</text>
<rect x="1196.70" y="500.00" width="12.60" height="12.60" fill="#8786be"/>
<text x="1213.3" y="507.8" font-size="8.6" text-anchor="start" fill="#eaf6f6">pirmreizējās fiziskās</text>
<rect x="1302.30" y="500.00" width="12.60" height="12.60" fill="#3bb9c2"/>
<text x="1318.8" y="507.8" font-size="8.6" text-anchor="start" fill="#eaf6f6">atkārtotās fiziskās</text>
<rect x="1196.70" y="521.00" width="12.60" height="12.60" fill="#74997f"/>
<text x="1213.3" y="528.9" font-size="8.6" text-anchor="start" fill="#eaf6f6">ārpuskārtas fiziskās</text>
<rect x="1302.30" y="521.00" width="12.60" height="12.60" fill="#f26b21"/>
<text x="1318.8" y="528.9" font-size="8.6" text-anchor="start" fill="#eaf6f6">birojam nepiekritīgos objektos</text>
</svg>
</section>
<section id="sertificesana">
<svg width="1500" height="860" viewBox="0 0 1500 860"><rect x="1057.35" y="567.55" width="396.90" height="204.70" rx="15.05" fill="#237a8a" stroke="#d3ebec" stroke-width="1.9"/></svg>
<h2 class="ptitle" style="left:1055.3px;width:398px;top:575.5px;">Būvspeciālistu sertificēšana</h2>
<svg width="1500" height="860" viewBox="0 0 1500 860">
<line x1="1078.6" y1="605.0" x2="1434.2" y2="605.0" stroke="#d6eded" stroke-width="1.6"/>
<clipPath id="cl0"><rect x="1123.4" y="622.20" width="259.9" height="13.4" rx="6.7"/></clipPath>
<g clip-path="url(#cl0)"><rect x="1123.40" y="622.20" width="259.88" height="13.40" fill="#8786be"/><rect x="1123.40" y="622.20" width="30.80" height="13.40" fill="#a5d3b5"/></g>
<text x="1080.8" y="633.1" font-size="11" text-anchor="start" fill="#f4fbfb">2020</text>
<text x="1138.8" y="631.9" font-size="8.8" text-anchor="middle" fill="#f4fbf8">22</text>
<text x="1253.3" y="631.7" font-size="8.2" text-anchor="middle" fill="#f4fbf8">189</text>
<clipPath id="cl1"><rect x="1123.4" y="642.92" width="269.5" height="13.4" rx="6.7"/></clipPath>
<g clip-path="url(#cl1)"><rect x="1123.40" y="642.92" width="269.50" height="13.40" fill="#8786be"/><rect x="1123.40" y="642.92" width="9.80" height="13.40" fill="#a5d3b5"/></g>
<text x="1080.8" y="653.8" font-size="11" text-anchor="start" fill="#f4fbfb">2021</text>
<text x="1128.6" y="652.6" font-size="8.8" text-anchor="middle" fill="#f4fbf8">7</text>
<text x="1258.2" y="652.4" font-size="8.2" text-anchor="middle" fill="#f4fbf8">196</text>
<clipPath id="cl2"><rect x="1123.4" y="663.64" width="292.9" height="13.4" rx="6.7"/></clipPath>
<g clip-path="url(#cl2)"><rect x="1123.40" y="663.64" width="292.88" height="13.40" fill="#8786be"/><rect x="1123.40" y="663.64" width="23.80" height="13.40" fill="#a5d3b5"/></g>
<text x="1080.8" y="674.5" font-size="11" text-anchor="start" fill="#f4fbfb">2022</text>
<text x="1135.3" y="673.3" font-size="8.8" text-anchor="middle" fill="#f4fbf8">17</text>
<text x="1269.8" y="673.1" font-size="8.2" text-anchor="middle" fill="#f4fbf8">213</text>
<clipPath id="cl3"><rect x="1123.4" y="684.36" width="301.1" height="13.4" rx="6.7"/></clipPath>
<g clip-path="url(#cl3)"><rect x="1123.40" y="684.36" width="301.12" height="13.40" fill="#8786be"/><rect x="1123.40" y="684.36" width="8.40" height="13.40" fill="#a5d3b5"/></g>
<text x="1080.8" y="695.3" font-size="11" text-anchor="start" fill="#f4fbfb">2023</text>
<text x="1127.9" y="694.1" font-size="8.8" text-anchor="middle" fill="#f4fbf8">6</text>
<text x="1274.0" y="693.9" font-size="8.2" text-anchor="middle" fill="#f4fbf8">219</text>
<clipPath id="cl4"><rect x="1123.4" y="705.08" width="310.8" height="13.4" rx="6.7"/></clipPath>
<g clip-path="url(#cl4)"><rect x="1123.40" y="705.08" width="310.75" height="13.40" fill="#8786be"/><rect x="1123.40" y="705.08" width="9.80" height="13.40" fill="#a5d3b5"/></g>
<text x="1080.8" y="716.0" font-size="11" text-anchor="start" font-weight="700" fill="#f4fbfb">2024</text>
<text x="1128.6" y="714.8" font-size="8.8" text-anchor="middle" font-weight="700" fill="#f4fbf8">7</text>
<text x="1278.8" y="714.6" font-size="8.2" text-anchor="middle" font-weight="700" fill="#f4fbf8">226</text>
<line x1="1076.6" y1="736.5" x2="1432.2" y2="736.5" stroke="#6aadb5" stroke-width="1.5"/>
<rect x="1076.60" y="741.20" width="12.60" height="12.40" fill="#a5d3b5"/>
<text x="1092.8" y="748.9" font-size="8.75" text-anchor="start" fill="#eaf6f6">Piešķirto sertifikātu skaits</text>
<rect x="1204.90" y="741.20" width="12.90" height="12.40" fill="#8786be"/>
<text x="1221.4" y="748.9" font-size="8.75" text-anchor="start" fill="#eaf6f6">Kopējais biroja piešķirto sertifikātu skaits ekspertīzes</text>
<text x="1221.4" y="759.1" font-size="8.75" text-anchor="start" fill="#eaf6f6">specialitātē uz perioda beigām</text>
</svg>
</section>
<p id="src">Avots: Būvniecības valsts kontroles birojs</p>
</div></body></html>
